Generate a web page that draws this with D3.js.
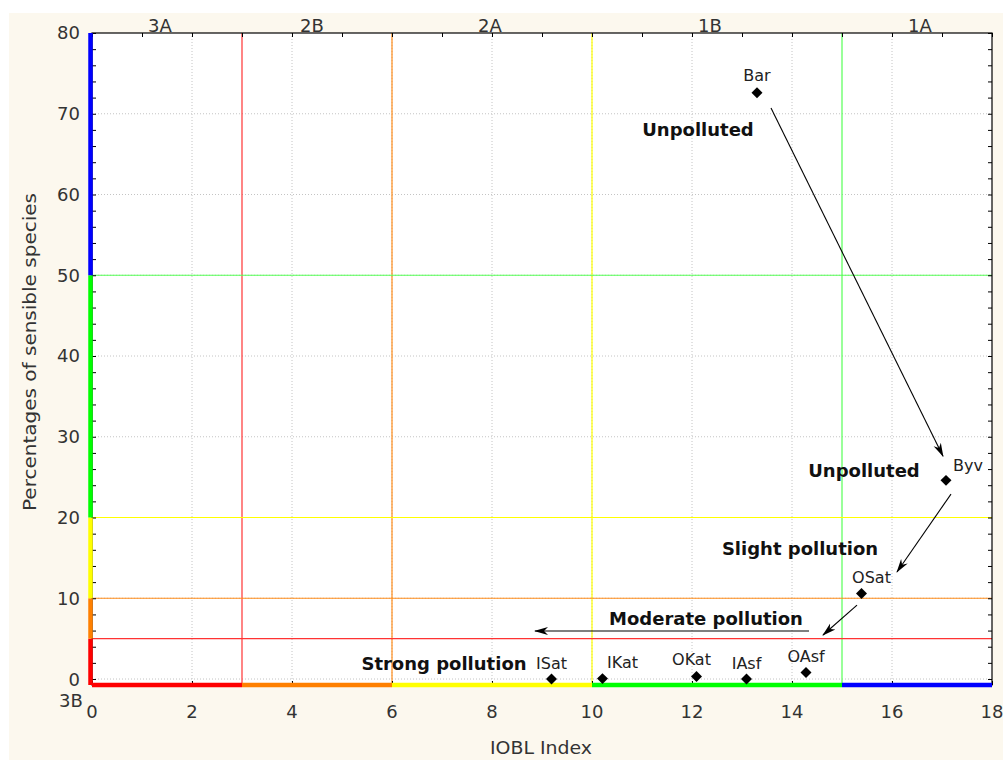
<!DOCTYPE html>
<html>
<head>
<meta charset="utf-8">
<script src="https://cdn.jsdelivr.net/npm/d3@7"></script>
<style>
  body { margin: 0; background: #fff; }
  svg { display: block; font-family: "DejaVu Sans", Verdana, sans-serif; }
</style>
</head>
<body>
<div id="chart"></div>
<script>
// data
var siteNames = ["Bar", "Byv", "OSat", "ISat", "IKat", "OKat", "IAsf", "OAsf"];
var ioblIndex = [13.3, 17.08, 15.39, 9.19, 10.21, 12.09, 13.09, 14.28];
var sensiblePct = [72.6, 24.6, 10.6, 0.0, 0.05, 0.3, 0.0, 0.8];

var xZoneBreaks = [0, 3, 6, 10, 15, 18];
var yZoneBreaks = [-0.74, 5, 10, 20, 50, 80];
var zoneColors = ["#ff0000", "#ff8000", "#ffff00", "#00ff00", "#0000ff"];
var zoneLabels = ["3A", "2B", "2A", "1B", "1A"];
var zoneLabelX = [1.36, 4.4, 7.96, 12.36, 16.56];

var xTicks = [0, 2, 4, 6, 8, 10, 12, 14, 16, 18];
var yTicks = [0, 10, 20, 30, 40, 50, 60, 70, 80];

var notes = ["Unpolluted", "Unpolluted", "Slight pollution", "Moderate pollution", "Strong pollution"];
var noteX = [12.12, 15.44, 14.16, 12.28, 7.04];
var noteY = [68.0, 25.76, 16.2, 7.55, 1.86];

// arrows [x1, y1, x2, y2] in data units
var arrows = [
  [13.58, 70.7, 17.02, 27.6],
  [17.18, 22.9, 16.1, 13.25],
  [15.3, 9.16, 14.62, 5.45],
  [14.34, 5.95, 8.86, 5.95]
];

var svgWidth = 1003;
var svgHeight = 760;

var svg = d3.select("#chart")
  .append("svg")
  .attr("width", svgWidth)
  .attr("height", svgHeight);

svg.append("rect")
  .attr("x", 9).attr("y", 13)
  .attr("width", svgWidth - 9).attr("height", svgHeight - 13)
  .attr("fill", "#fcf8ee");

var x = d3.scaleLinear().domain([0, 18]).range([92, 992]);
var y = d3.scaleLinear().domain([-0.74, 80]).range([685, 33]);

svg.append("rect")
  .attr("x", x(0)).attr("y", y(80))
  .attr("width", x(18) - x(0)).attr("height", y(-0.74) - y(80))
  .attr("fill", "#fff");

// dotted grid
svg.append("g").selectAll("line")
  .data(xTicks.slice(1, -1))
  .enter().append("line")
  .attr("x1", d => x(d)).attr("x2", d => x(d))
  .attr("y1", y(80)).attr("y2", y(-0.74))
  .attr("stroke", "#c4c4c4").attr("stroke-dasharray", "1,2");

svg.append("g").selectAll("line")
  .data(yTicks.slice(0, -1))
  .enter().append("line")
  .attr("x1", x(0)).attr("x2", x(18))
  .attr("y1", d => y(d)).attr("y2", d => y(d))
  .attr("stroke", "#c4c4c4").attr("stroke-dasharray", "1,2");

// zone boundary lines
var thinColors = ["#ff3333", "#ff8c1a", "#ffff00", "#55ff55"];
svg.append("g").selectAll("line")
  .data(xZoneBreaks.slice(1, -1))
  .enter().append("line")
  .attr("x1", d => x(d)).attr("x2", d => x(d))
  .attr("y1", y(80)).attr("y2", y(-0.74))
  .attr("stroke", (d, i) => thinColors[i]).attr("stroke-width", 1.2);

svg.append("g").selectAll("line")
  .data(yZoneBreaks.slice(1, -1))
  .enter().append("line")
  .attr("x1", x(0)).attr("x2", x(18))
  .attr("y1", d => y(d)).attr("y2", d => y(d))
  .attr("stroke", (d, i) => thinColors[i]).attr("stroke-width", 1.2);

// axis frame and ticks
var frame = svg.append("g");
frame.append("rect")
  .attr("x", x(0)).attr("y", y(80))
  .attr("width", x(18) - x(0)).attr("height", y(-0.74) - y(80))
  .attr("fill", "none").attr("stroke", "#000").attr("stroke-width", 1.2);

var topAxis = d3.axisTop(x).tickValues(d3.range(0, 19, 1)).tickSize(-4).tickFormat("");
frame.append("g").attr("transform", `translate(0,${y(80)})`).call(topAxis);

var bottomAxis = d3.axisBottom(x).tickValues(xTicks).tickSize(-4).tickFormat("");
frame.append("g").attr("transform", `translate(0,${y(-0.74)})`).call(bottomAxis);

var leftAxis = d3.axisLeft(y).tickValues(d3.range(0, 81, 2)).tickSize(-4).tickFormat("");
frame.append("g").attr("transform", `translate(${x(0)},0)`).call(leftAxis);

var rightAxis = d3.axisRight(y).tickValues(d3.range(0, 81, 2)).tickSize(-4).tickFormat("");
frame.append("g").attr("transform", `translate(${x(18)},0)`).call(rightAxis);

frame.selectAll(".domain").remove();
frame.selectAll(".tick line").attr("stroke", "#000");

// colored zone bars along axes
svg.append("g").selectAll("line")
  .data(zoneColors)
  .enter().append("line")
  .attr("x1", (d, i) => x(xZoneBreaks[i])).attr("x2", (d, i) => x(xZoneBreaks[i + 1]))
  .attr("y1", y(-0.74)).attr("y2", y(-0.74))
  .attr("stroke", d => d).attr("stroke-width", 4.5);

svg.append("g").selectAll("line")
  .data(zoneColors)
  .enter().append("line")
  .attr("x1", x(0) - 1.5).attr("x2", x(0) - 1.5)
  .attr("y1", (d, i) => y(yZoneBreaks[i])).attr("y2", (d, i) => y(yZoneBreaks[i + 1]))
  .attr("stroke", d => d).attr("stroke-width", 4.5);

// tick labels
svg.append("g").selectAll("text")
  .data(xTicks)
  .enter().append("text")
  .attr("x", d => x(d)).attr("y", 718)
  .attr("text-anchor", "middle")
  .attr("font-size", 18).attr("fill", "#333")
  .text(d => d);

svg.append("g").selectAll("text")
  .data(yTicks)
  .enter().append("text")
  .attr("x", 80).attr("y", d => y(d))
  .attr("dy", "0.36em")
  .attr("text-anchor", "end")
  .attr("font-size", 18).attr("fill", "#333")
  .text(d => d);

svg.append("g").selectAll("text")
  .data(zoneLabels)
  .enter().append("text")
  .attr("x", (d, i) => x(zoneLabelX[i])).attr("y", 32)
  .attr("text-anchor", "middle")
  .attr("font-size", 18).attr("fill", "#333")
  .text(d => d);

svg.append("text")
  .attr("x", 71).attr("y", 707)
  .attr("text-anchor", "middle")
  .attr("font-size", 18).attr("fill", "#333")
  .text("3B");

// axis titles
svg.append("text")
  .attr("transform", "translate(36,352) rotate(-90)")
  .attr("text-anchor", "middle")
  .attr("font-size", 17).attr("fill", "#333")
  .attr("textLength", 318).attr("lengthAdjust", "spacingAndGlyphs")
  .text("Percentages of sensible species");

svg.append("text")
  .attr("x", 541).attr("y", 754)
  .attr("text-anchor", "middle")
  .attr("font-size", 17).attr("fill", "#333")
  .attr("textLength", 102).attr("lengthAdjust", "spacingAndGlyphs")
  .text("IOBL Index");

// arrows
svg.append("defs").append("marker")
  .attr("id", "head")
  .attr("viewBox", "0 0 14 10")
  .attr("refX", 13).attr("refY", 5)
  .attr("markerWidth", 14).attr("markerHeight", 10)
  .attr("markerUnits", "userSpaceOnUse")
  .attr("orient", "auto")
  .append("path")
  .attr("d", "M0,1 L14,5 L0,9 L4,5 Z")
  .attr("fill", "#000");

svg.append("g").selectAll("line")
  .data(arrows)
  .enter().append("line")
  .attr("x1", d => x(d[0])).attr("y1", d => y(d[1]))
  .attr("x2", d => x(d[2])).attr("y2", d => y(d[3]))
  .attr("stroke", "#000").attr("stroke-width", 1.1)
  .attr("marker-end", "url(#head)");

// annotations
svg.append("g").selectAll("text")
  .data(notes)
  .enter().append("text")
  .attr("x", (d, i) => x(noteX[i])).attr("y", (d, i) => y(noteY[i]))
  .attr("dy", "0.36em")
  .attr("text-anchor", "middle")
  .attr("font-size", 18).attr("font-weight", "bold").attr("fill", "#111")
  .text(d => d);

// points
var points = siteNames.map((n, i) => ({ name: n, iobl: ioblIndex[i], pct: sensiblePct[i] }));
var labelShift = {
  Bar: [0, -18], Byv: [22, -15], OSat: [10, -16], ISat: [0, -16],
  IKat: [20, -16], OKat: [-5, -17], IAsf: [0, -16], OAsf: [0, -16]
};

svg.append("g").selectAll("path")
  .data(points)
  .enter().append("path")
  .attr("d", d3.symbol(d3.symbolSquare, 60))
  .attr("transform", d => `translate(${x(d.iobl)},${y(d.pct)}) rotate(45)`)
  .attr("fill", "#000");

svg.append("g").selectAll("text")
  .data(points)
  .enter().append("text")
  .attr("x", d => x(d.iobl) + labelShift[d.name][0])
  .attr("y", d => y(d.pct) + labelShift[d.name][1])
  .attr("dy", "0.36em")
  .attr("text-anchor", "middle")
  .attr("font-size", 16).attr("fill", "#222")
  .text(d => d.name);
</script>
</body>
</html>
